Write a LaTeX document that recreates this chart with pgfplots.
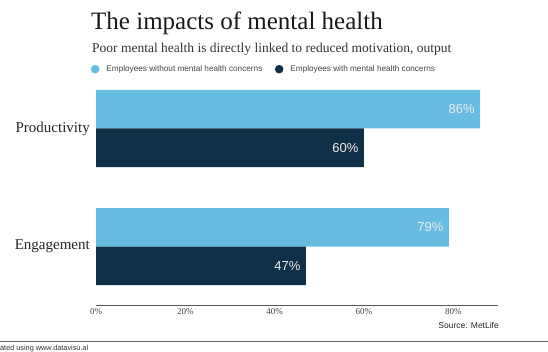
\documentclass[border=0pt]{standalone}
\usepackage{pgfplots}
\pgfplotsset{compat=1.18}
\usepackage{fontspec}
\setmainfont{Liberation Serif}
\setsansfont{Liberation Sans}
\definecolor{lightb}{HTML}{67BCE2}
\definecolor{darkb}{HTML}{0F3046}
\definecolor{txtgray}{HTML}{444444}
\begin{document}
\begin{tikzpicture}[x=1pt,y=1pt]
\useasboundingbox (0,0) rectangle (548,351);
\begin{scope}
\clip (0,0) rectangle (548,351);
\node[anchor=base west, inner sep=0pt, font=\sffamily\fontsize{7.3}{9}\selectfont, text=black!80] at (-20.3,0.8) {Generated using www.datavisu.al};
\end{scope}
\draw[black!60, line width=1.2pt] (0,9.3) -- (548,9.3);
\node[anchor=base west, inner sep=0pt, font=\fontsize{25}{28}\selectfont, text=black!90] at (91,321) {The impacts of mental health};
\node[anchor=base west, inner sep=0pt, font=\fontsize{13.5}{15}\selectfont, text=black!80] at (92,298.3) {Poor mental health is directly linked to reduced motivation, output};
\begin{axis}[
  at={(96pt,45.5pt)}, anchor=south west,
  scale only axis, width=402pt, height=224.2pt,
  xmin=0, xmax=90, ymin=-0.5, ymax=1.4,
  axis x line*=bottom, axis y line*=left,
  x axis line style={black!65, line width=1.2pt, -},
  y axis line style={draw=none},
  xtick={0,20,40,60,80},
  xticklabel={\pgfmathprintnumber{\tick}\%},
  /pgf/number format/assume math mode=true,
  xticklabel style={font=\fontsize{9}{10}\selectfont, text=txtgray, inner sep=0pt, yshift=-3pt},
  ytick={0,1}, yticklabels={Engagement,Productivity},
  yticklabel style={font=\fontsize{15}{17}\selectfont, text=black!85, inner sep=0pt, xshift=-6pt},
  major tick length=0pt, tick style={draw=none},
  xbar, bar width=38.5pt,
  nodes near coords={\pgfmathprintnumber{\pgfplotspointmeta}\%},
  nodes near coords style={anchor=east, xshift=-2pt, font=\sffamily\fontsize{13}{15}\selectfont, text=white!92!black},
  legend style={at={(-0.0132,1.054)}, anchor=west, draw=none, fill=none, legend columns=2,
    font=\sffamily\fontsize{8.2}{10}\selectfont, text=txtgray, inner sep=0pt,
    /tikz/every odd column/.append style={column sep=5pt},
    /tikz/every even column/.append style={column sep=10.5pt}},
  legend cell align=left,
  legend image code/.code={\fill (4.3pt,0pt) circle (4.3pt);},
]
\addplot[fill=lightb, draw=none, bar shift=19.25pt] coordinates {(86,1) (79,0)};
\addlegendentry{Employees without mental health concerns}
\addplot[fill=darkb, draw=none, bar shift=-19.25pt] coordinates {(60,1) (47,0)};
\addlegendentry{Employees with mental health concerns}
\end{axis}
\node[anchor=east, inner sep=0pt, font=\sffamily\fontsize{8.5}{10}\selectfont, text=black!85] at (499,26) {Source: MetLife};
\end{tikzpicture}
\end{document}
